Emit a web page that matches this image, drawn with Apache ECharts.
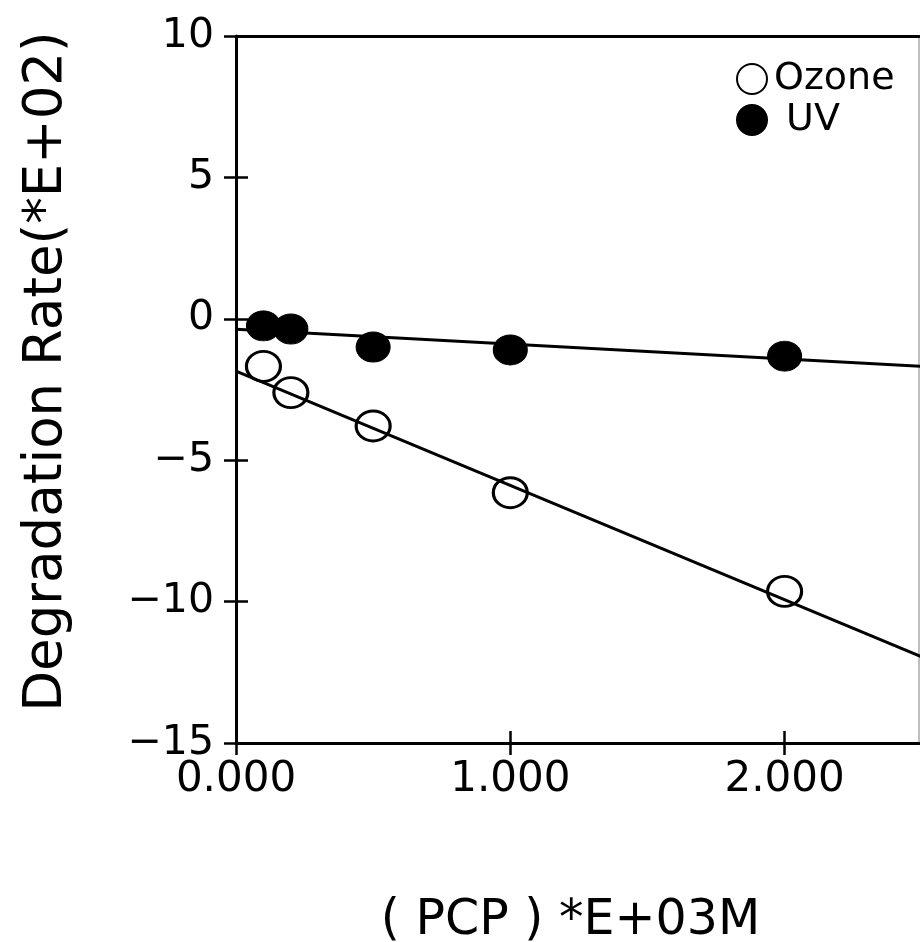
<!DOCTYPE html>
<html>
<head>
<meta charset="utf-8">
<script src="https://cdn.jsdelivr.net/npm/echarts@6/dist/echarts.min.js"></script>
<style>
html,body{margin:0;padding:0;background:#fff;}
#chart{width:920px;height:942px;}
</style>
</head>
<body>
<div id="chart"></div>
<script>
// ---- data ----
const pcp = [0.1, 0.2, 0.5, 1.0, 2.0];
const ozoneRate = [-1.68, -2.61, -3.79, -6.15, -9.64];
const uvRate = [-0.25, -0.36, -1.0, -1.1, -1.32];
const fitX = [0, 2.5];
const ozoneFit = [-1.85, -11.95];
const uvFit = [-0.37, -1.68];
const xTicks = [0, 1, 2];
const yTicks = [10, 5, 0, -5, -10, -15];

const FONT = 'DejaVu Sans';
const marker = 'path://M0,50 A50,50 0 1,0 100,50 A50,50 0 1,0 0,50 Z';

const chart = echarts.init(document.getElementById('chart'), null, {renderer: 'canvas'});

const xBase = {type: 'value', min: 0, max: 2.49, interval: 1, splitLine: {show: false}};
const yBase = {type: 'value', min: -15, max: 10, interval: 5, splitLine: {show: false}};
const tickStyle = {color: '#000', width: 2.5};
const clearLine = {show: true, onZero: false, lineStyle: {color: 'rgba(0,0,0,0)', width: 0.1}};

const option = {
  backgroundColor: '#fff',
  animation: false,
  grid: {left: 236, top: 36, right: 1, bottom: 199, containLabel: false, outerBoundsMode: 'none'},
  legend: {
    data: ['Ozone', 'UV'],
    orient: 'vertical',
    left: 731, top: 55,
    itemWidth: 34, itemHeight: 30, itemGap: 3,
    textStyle: {fontFamily: FONT, fontSize: 38, color: '#000'},
    formatter: n => n === 'UV' ? ' UV' : n
  },
  xAxis: [
    Object.assign({}, xBase, {
      position: 'bottom',
      name: '( PCP ) *E+03M', nameLocation: 'middle', nameGap: 154,
      nameTextStyle: {fontFamily: FONT, fontSize: 49, color: '#000', padding: [0, 14, 0, 0]},
      axisLine: {show: true, onZero: false, lineStyle: {color: '#000', width: 3}},
      axisTick: {show: false},
      axisLabel: {show: true, margin: 16, fontFamily: FONT, fontSize: 42, color: '#000',
        showMaxLabel: false,
        formatter: v => xTicks.includes(v) ? v.toFixed(3) : ''}
    }),
    Object.assign({}, xBase, {
      position: 'top',
      axisLine: {show: true, onZero: false, lineStyle: {color: '#000', width: 3}},
      axisTick: {show: false},
      axisLabel: {show: false}
    }),
    Object.assign({}, xBase, {
      position: 'bottom', offset: -12,
      axisLine: clearLine,
      axisTick: {show: true, inside: false, length: 24, customValues: xTicks, lineStyle: tickStyle},
      axisLabel: {show: false}
    })
  ],
  yAxis: [
    Object.assign({}, yBase, {
      position: 'left',
      name: 'Degradation Rate(*E+02)', nameLocation: 'middle', nameGap: 162,
      nameTextStyle: {fontFamily: FONT, fontSize: 53, color: '#000', padding: [0, 0, 0, 36]},
      axisLine: {show: true, onZero: false, lineStyle: {color: '#000', width: 3}},
      axisTick: {show: false},
      axisLabel: {show: true, margin: 22, fontFamily: FONT, fontSize: 41, color: '#000',
        formatter: v => yTicks.includes(v) ? String(v).replace('-', '\u2212') : ''}
    }),
    Object.assign({}, yBase, {
      position: 'right',
      axisLine: {show: true, onZero: false, lineStyle: {color: '#aaa', width: 1.5}},
      axisTick: {show: false},
      axisLabel: {show: false}
    }),
    Object.assign({}, yBase, {
      position: 'left', offset: -12,
      axisLine: clearLine,
      axisTick: {show: true, inside: false, length: 24, customValues: yTicks, lineStyle: tickStyle},
      axisLabel: {show: false}
    })
  ],
  series: [
    {
      name: 'Ozone fit', type: 'line', xAxisIndex: 0, yAxisIndex: 0,
      data: fitX.map((x, i) => [x, ozoneFit[i]]),
      showSymbol: false, symbol: 'none', clip: true,
      lineStyle: {color: '#000', width: 3}, z: 2, silent: true
    },
    {
      name: 'UV fit', type: 'line', xAxisIndex: 0, yAxisIndex: 0,
      data: fitX.map((x, i) => [x, uvFit[i]]),
      showSymbol: false, symbol: 'none', clip: true,
      lineStyle: {color: '#000', width: 3}, z: 2, silent: true
    },
    {
      name: 'Ozone', type: 'scatter', xAxisIndex: 0, yAxisIndex: 0,
      data: pcp.map((x, i) => [x, ozoneRate[i]]),
      symbol: marker, symbolSize: [34, 30],
      itemStyle: {color: 'rgba(255,255,255,0)', borderColor: '#000', borderWidth: 3, opacity: 1},
      z: 3
    },
    {
      name: 'UV', type: 'scatter', xAxisIndex: 0, yAxisIndex: 0,
      data: pcp.map((x, i) => [x, uvRate[i]]),
      symbol: marker, symbolSize: [34, 30],
      itemStyle: {color: '#000', borderColor: '#000', borderWidth: 1, opacity: 1},
      z: 3
    }
  ]
};
chart.setOption(option);
</script>
</body>
</html>
